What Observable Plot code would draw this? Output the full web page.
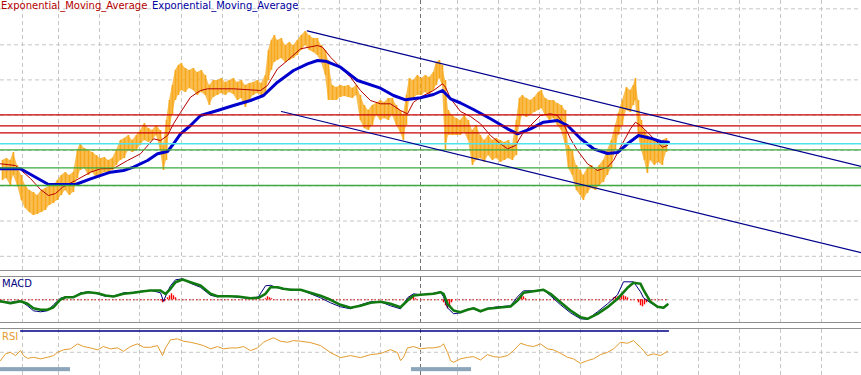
<!DOCTYPE html>
<html><head><meta charset="utf-8">
<script src="https://cdn.jsdelivr.net/npm/d3@7"></script>
<script src="https://cdn.jsdelivr.net/npm/@observablehq/plot@0.6"></script>
<style>
body{margin:0;background:#fff;}
#wrap{position:relative;width:861px;height:375px;overflow:hidden;background:#fff;font-family:"DejaVu Sans",sans-serif;}
.pane{position:absolute;left:0;width:861px;}
#main{top:0;height:270px;}
#macd{top:277px;height:45px;}
#rsi{top:329px;height:46px;}
.sep{position:absolute;left:0;width:861px;height:1px;background:#8f8f8f;}
.lbl{position:absolute;font-size:10px;white-space:nowrap;line-height:10px;}
svg{display:block;}
</style></head>
<body>
<div id="wrap">
  <div class="pane" id="main"></div>
  <div class="sep" style="top:270px"></div>
  <div class="sep" style="top:276px"></div>
  <div class="pane" id="macd"></div>
  <div class="sep" style="top:322px"></div>
  <div class="sep" style="top:328px"></div>
  <div class="pane" id="rsi"></div>
  <div class="lbl" style="left:1px;top:1px;color:#b40000">Exponential_Moving_Average</div>
  <div class="lbl" style="left:152px;top:1px;color:#0000a0">Exponential_Moving_Average</div>
  <div class="lbl" style="left:2px;top:279px;color:#000080">MACD</div>
  <div class="lbl" style="left:2px;top:332px;color:#e39b2e">RSI</div>
</div>
<script>
// ---- grid (bar index / price points) ----
const gridBars = [22,58,99,139,181,222,258,298,339,380,457,498,539,580,621,657,698,739,780,821];
const separatorBars = [420];
const gridPrice = [14.2,49.5,84.7,120,155.3,190.6,225.7,261.7];

// ---- price bars (high / low), points ----
const barX = [2,6,10,13,17,21,25,29,33,37,41,45,49,53,57,61,65,69,73,77,80,84,88,92,96,100,104,108,112,116,120,124,128,132,136,140,144,148,152,156,160,163,166,169,172,175,178,181,185,189,193,197,201,205,209,213,217,221,225,229,233,237,241,245,249,253,257,261,265,268,271,274,277,281,285,289,293,297,301,305,309,313,317,321,325,328,332,336,340,344,348,352,356,360,364,368,372,376,380,384,388,392,396,400,403,406,409,413,417,421,425,429,433,436,439,442,445,448,452,456,460,464,468,472,476,480,484,488,492,496,500,504,508,512,516,519,522,526,530,534,538,541,545,549,553,557,561,565,568,572,576,580,583,587,591,595,599,603,607,611,615,618,622,626,630,633,635,638,641,644,647,650,654,658,662,666];
const barHigh = [110,112,110,118,105,95,85,80,78,75,80,82,85,84,90,95,98,95,98,120,127,122,120,118,115,112,113,110,112,120,130,132,135,130,135,140,147,142,140,145,140,125,150,170,185,200,205,207,202,200,202,198,200,195,185,190,190,192,188,190,192,188,190,185,187,188,190,187,195,220,230,235,230,232,225,228,225,230,235,239,235,232,232,225,220,210,185,183,185,184,185,182,185,175,165,160,165,167,170,168,172,172,165,160,155,175,192,190,195,192,195,193,198,208,210,205,190,160,155,152,150,155,150,140,145,135,130,135,130,132,130,128,130,125,150,172,175,172,170,173,178,180,172,170,170,167,165,160,125,120,105,100,95,102,105,100,105,110,120,130,145,157,170,183,180,185,192,170,150,140,135,132,130,128,130,132];
const barLow = [90,92,85,95,85,70,62,58,55,56,58,60,65,67,70,75,80,75,78,92,100,102,95,98,92,95,98,98,100,105,110,112,120,118,120,125,130,128,130,135,120,100,110,140,155,170,175,180,178,182,180,175,178,175,165,173,175,177,175,178,176,170,172,163,170,175,177,175,177,190,200,208,210,212,208,210,212,215,220,225,220,218,215,208,195,170,170,170,173,174,173,172,175,150,142,140,145,155,150,152,150,155,145,138,130,145,170,172,175,175,178,175,180,185,192,185,120,135,135,135,135,138,130,105,110,112,108,115,110,112,108,110,112,110,115,145,155,153,155,158,160,162,155,150,152,145,140,125,102,95,80,75,70,77,82,80,85,88,95,102,120,135,145,160,158,165,170,135,120,110,97,110,105,108,105,118];

// ---- moving averages ----
const emaSlowX = [0,20,48,75,90,110,123,133,147,157,167,173,180,190,200,217,233,250,263,277,293,307,317,325,340,357,380,393,405,420,433,442,450,460,473,490,507,517,530,543,557,567,580,593,607,617,627,638,650,660,668];
const emaSlowV = [101.7,101.7,86,86,91.7,98.3,100,103.3,110,116.7,119,126.7,136.7,145,155,160,165,170,175,188.3,200,206.7,210,209.3,203.3,190,182.3,175,170.7,172.7,176,180,171.7,167.5,161,151.7,141.7,136.7,141.7,148.3,150,145,132,121.7,117,118,126.7,135,132.3,129,128.3];
const emaFastX = [0,15,30,40,48,55,62,75,90,100,113,127,140,153,160,167,173,180,190,200,207,233,260,267,277,287,300,317,322,330,340,350,360,370,380,390,400,407,413,423,433,442,445,450,460,470,480,490,500,507,515,522,530,540,550,557,563,570,577,587,597,607,613,620,630,635,640,647,655,662,667];
const emaFastV = [106.7,105,92,81,75,77,83.3,90,98.3,101.7,102,110,116.7,131.7,130,135,146.7,158,173.3,180,181.7,181.7,180,185,201.7,210,221.7,225,223.3,213.3,203.3,193.3,180,170,166.7,166.7,160,156.7,168.3,175,180,186.7,183.3,172,159,154,146.7,135,126.7,121.7,125,136.7,145,155,156.7,155,146.7,131.7,120,106.7,100,103.3,110,123.3,141.7,148.3,145,138.3,130,123.3,125];

// ---- horizontal levels & channel ----
const levelsRed = [155.7,144.7,137.7];
const levelsCyan = [126.7];
const levelsGreen = [120.7,102.7,85];
const channelUpper = [{bar:306.7,v:239.7},{bar:861,v:104.1}];
const channelLower = [{bar:281,v:159},{bar:861,v:17.7}];

// ---- MACD ----
const macdX = [0,10,20,27,33,40,47,53,60,65,73,80,88,97,105,113,123,133,143,150,160,165,170,175,182,190,200,210,217,227,237,250,258,265,270,277,283,290,300,310,320,330,340,350,360,370,380,390,400,407,413,420,433,440,443,447,453,460,467,473,480,487,497,510,517,523,533,543,550,560,570,580,587,597,607,617,627,633,640,643,650,657,663,667];
const macdMain = [-1.4,-3.4,-1.4,-4,-8.4,-10,-10,-7.4,0.3,2.6,2.6,6,7.6,6.6,4.3,3.3,6,7,8.6,9.3,9.3,5.8,11,17.6,20.3,17.6,14.3,6,3.6,3.6,3.3,1.6,2,6,12.6,12.6,11,10,10,7,4,0,-5,-8,-6,-3,-2,-4,-7.4,-0.7,4.3,5,6,7.6,6,-4,-10.7,-12.4,-10,-8.4,-11.4,-9,-8,-6.7,-0.7,7,8.6,10,6,-2.4,-10.7,-17.4,-19,-14,-7.4,1,12,17,16,10,-2,-7,-8,-4.7];
const signalX = [0,10,20,27,33,40,47,53,60,65,73,80,88,97,105,113,123,133,143,150,160,163,167,170,175,182,190,200,210,217,227,237,250,258,265,270,277,283,290,300,310,320,330,340,350,360,370,380,390,400,407,413,420,433,440,443,447,453,460,467,473,480,487,497,510,517,523,533,543,550,560,570,580,587,597,607,617,623,633,640,643,650,657,663,667];
const signalV = [-2,-2.5,-1,-6,-11,-12,-11,-5,1.5,3,2.5,7,8,6,3.5,3.5,7,7.5,9,9.5,7,-1.5,8,14,20,21,16.5,12.5,4.5,3,4,2.5,1.5,3,14,14.5,12,10.5,10.5,10,6,2,-3,-7,-9,-5,-2,-2,-6,-9,2,6,5,6.5,8,3,-8,-14,-13,-9.5,-9,-12,-8.5,-7,-6,3,9,9,10,4,-5,-13,-19,-19.5,-12,-4,5,18,18,8,2,-3,-7,-8,-5];
const histX = [160,162,164,167,169,171,173,175,265,267,269,271,407,409,411,413,415,443,445,447,449,451,517,519,521,523,525,613,615,617,619,621,623,625,627,638,640,642,644,646,648];
const histV = [-1,-3,-2,2,4,6,4,2,1,3,2,1,1,3,4,3,1,-3,-6,-9,-7,-3,1,3,4,3,1,2,3,3,4,5,4,3,2,-3,-6,-7,-5,-3,-1];
const histSpan = [{a:0,b:668}];

// ---- RSI ----
const rsiX = [0,5,10,15,20,23,27,33,40,47,53,57,63,70,77,83,90,97,103,110,117,123,130,137,143,150,157,162,165,170,177,183,190,197,203,210,217,223,230,237,243,250,257,263,268,273,280,287,293,300,310,320,330,340,350,360,370,380,390,397,400,403,407,413,420,427,433,440,443,447,450,453,460,467,473,480,487,493,500,507,513,520,527,533,540,547,553,560,567,573,580,587,593,600,607,613,620,627,633,640,643,647,653,660,667];
const rsiV = [42.2,48.5,50,46.9,51.6,46.9,44.3,45.3,43.8,45.3,46.9,50,52.3,53.2,57.9,55.4,54.1,52.3,55.4,53.2,54.1,50.9,55.4,57.9,54.7,54.7,56.3,46.9,54.1,61.7,62.6,60.4,59.4,57.9,56.3,53.2,55.4,53.2,54.1,54.1,55.4,51.6,54.1,59.4,61.7,63.6,60.4,59.4,61,60.4,59.1,56.3,49.7,45,46.9,45,47.8,48.8,52.5,49.7,42.2,45.3,54.1,55.4,53.2,54.1,54.1,55.4,57.9,50,42.2,40.6,43.8,45.3,45.9,42.8,47.8,45.9,45.3,46.9,51.6,58.5,56.3,55.4,57.9,53.2,52.3,49.1,45.3,43.8,39.6,42.2,43.8,47.8,50,53.2,59.4,58.5,61,54.7,51.6,46.9,48.5,46.9,50.9];
const rsiLevelLine = [{bar:20,v:70},{bar:668,v:70}];
const rsiMid = [50];
const scrollMarks = [{a:0,b:70},{a:411,b:471}];
const scrollBand = {lo:31.8, hi:35.6};

// ---- build tables ----
const bars = barX.map((x,i)=>({x, hi:barHigh[i], lo:barLow[i]}));
const slow = emaSlowX.map((x,i)=>({x, v:emaSlowV[i]}));
const fast = emaFastX.map((x,i)=>({x, v:emaFastV[i]}));
const macd = macdX.map((x,i)=>({x, v:macdMain[i]}));
const sig = signalX.map((x,i)=>({x, v:signalV[i]}));
const hist = histX.map((x,i)=>({x, v:histV[i]}));
const rsi = rsiX.map((x,i)=>({x, v:rsiV[i]}));

const X = {domain:[0,861], range:[0,861], axis:null};
const gridStyle = {stroke:"#c6c6c6", strokeWidth:1, strokeDasharray:"4,3"};
const sepStyle = {stroke:"#707070", strokeWidth:1, strokeDasharray:"4,3"};
const common = {width:861, marginTop:0, marginBottom:0, marginLeft:0, marginRight:0, x:X, style:{background:"transparent", overflow:"hidden"}};
const priceColor = "#f7a81b";

const mainPlot = Plot.plot({
  ...common, height:270,
  y:{domain:[0,270], axis:null},
  marks:[
    Plot.ruleX(gridBars, gridStyle),
    Plot.ruleX(separatorBars, sepStyle),
    Plot.ruleY(gridPrice, gridStyle),
    Plot.areaY(bars, {x:"x", y1:"lo", y2:"hi", fill:priceColor, fillOpacity:0.75}),
    Plot.ruleX(bars, {x:"x", y1:"lo", y2:"hi", stroke:priceColor, strokeWidth:1.6}),
    Plot.line(fast, {x:"x", y:"v", stroke:"#b40000", strokeWidth:1}),
    Plot.line(slow, {x:"x", y:"v", stroke:"#0000cc", strokeWidth:3}),
    Plot.ruleY(levelsRed, {stroke:"#cc0000", strokeWidth:1.3}),
    Plot.ruleY(levelsCyan, {stroke:"#4fe3ea", strokeWidth:1.6}),
    Plot.ruleY(levelsGreen, {stroke:"#3caa3c", strokeWidth:1.3}),
    Plot.line(channelUpper, {x:"bar", y:"v", stroke:"#00008c", strokeWidth:1.2}),
    Plot.line(channelLower, {x:"bar", y:"v", stroke:"#00008c", strokeWidth:1.2})
  ]
});
document.getElementById("main").append(mainPlot);

const macdPlot = Plot.plot({
  ...common, height:45,
  y:{domain:[-22.7,22.3], axis:null},
  marks:[
    Plot.ruleX(gridBars, gridStyle),
    Plot.ruleX(separatorBars, sepStyle),
    Plot.ruleY([0], gridStyle),
    Plot.ruleY(histSpan, {x1:"a", x2:"b", y:0, stroke:"#d00000", strokeWidth:1, strokeDasharray:"1.5,2"}),
    Plot.ruleX(hist, {x:"x", y1:0, y2:"v", stroke:"#ff0000", strokeWidth:1.4}),
    Plot.line(sig, {x:"x", y:"v", stroke:"#000080", strokeWidth:1}),
    Plot.line(macd, {x:"x", y:"v", stroke:"#107a10", strokeWidth:2.6})
  ]
});
document.getElementById("macd").append(macdPlot);

const rsiPlot = Plot.plot({
  ...common, height:46,
  y:{domain:[28.2,71.4], axis:null},
  marks:[
    Plot.ruleX(gridBars, gridStyle),
    Plot.ruleX(separatorBars, sepStyle),
    Plot.ruleY(rsiMid, gridStyle),
    Plot.line(rsiLevelLine, {x:"bar", y:"v", stroke:"#00008c", strokeWidth:1.3}),
    Plot.line(rsi, {x:"x", y:"v", stroke:"#e39b2e", strokeWidth:1}),
    Plot.rect(scrollMarks, {x1:"a", x2:"b", y1:scrollBand.lo, y2:scrollBand.hi, fill:"#8da5ba"})
  ]
});
document.getElementById("rsi").append(rsiPlot);
</script>
</body></html>
